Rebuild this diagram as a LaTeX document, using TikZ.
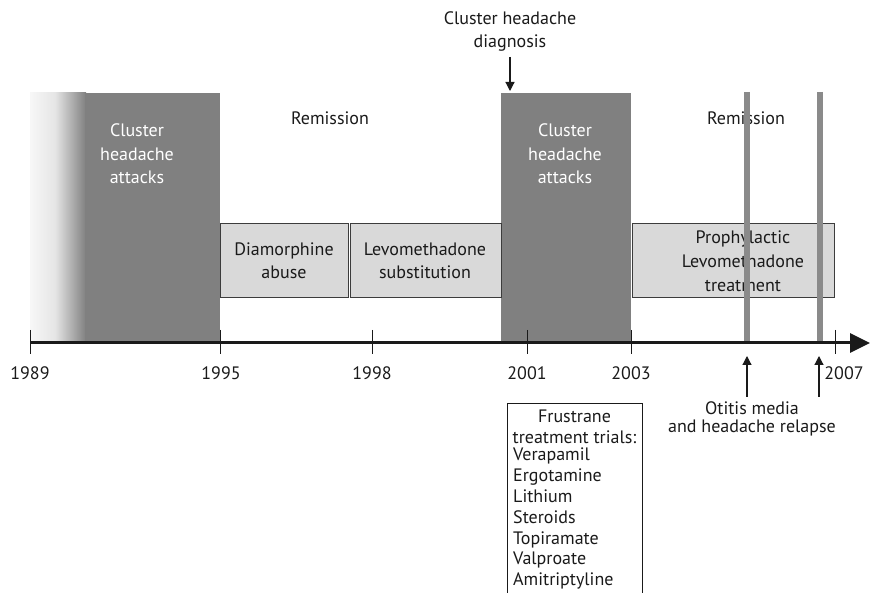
\documentclass[tikz,border=0pt]{standalone}
\usepackage{fontspec}
\setmainfont{PT Sans}
\usetikzlibrary{arrows.meta}
\definecolor{blk}{HTML}{808080}
\definecolor{pale}{HTML}{D9D9D9}
\definecolor{ink}{HTML}{1A1A1A}
\definecolor{vline}{HTML}{8A8A8A}
\tikzset{
  lbl/.style={font=\fontsize{18}{20}\selectfont, text=ink, inner sep=0pt, align=center},
  wlbl/.style={font=\fontsize{18}{23.5}\selectfont, text=white, inner sep=0pt, align=center},
  pbox/.style={fill=pale, draw=ink!85, line width=1pt},
  tickmark/.style={line width=0.9pt, draw=ink},
  yr/.style={font=\fontsize{18}{20}\selectfont, text=ink, inner sep=0pt},
  uparr/.style={line width=1.2pt, draw=ink, -{Triangle[length=9pt,width=9pt]}},
}
\begin{document}
\begin{tikzpicture}[x=1pt,y=-1pt]
\useasboundingbox (0,0) rectangle (871,593);
% gradient start
\shade[left color=white!97!black, right color=white!90!black] (30,93) rectangle (55,343);
\shade[left color=white!90!black, right color=blk] (55,93) rectangle (86,343);
% attack blocks
\fill[blk] (85,93) rectangle (220,343);
\fill[blk] (501,93) rectangle (631,343);
\node[wlbl] (att1) at (137,154) {Cluster\\headache\\attacks};
\node[wlbl] (att2) at (565,154) {Cluster\\headache\\attacks};
% remission
\node[lbl] (rem1) at (330,118) {Remission};
\node[lbl] (rem2) at (746,118) {Remission};
% treatment boxes
\draw[pbox] (220,224) rectangle (348,298);
\node[lbl, font=\fontsize{18}{23}\selectfont] (dia) at (284,261) {Diamorphine\\abuse};
\draw[pbox] (350,224) rectangle (501,298);
\node[lbl, font=\fontsize{18}{23}\selectfont] (levo) at (425,261) {Levomethadone\\substitution};
\draw[pbox] (632,224) rectangle (834,298);
\node[lbl, font=\fontsize{18}{24}\selectfont] (proph) at (743,261) {Prophylactic\\Levomethadone\\treatment};
% relapse lines
\draw[vline, line width=6pt] (747,92) -- (747,343);
\draw[vline, line width=6pt] (820,92) -- (820,343);
% axis
\coordinate (axs) at (30,343);
\coordinate (axe) at (870,343);
\draw[line width=3pt, draw=ink, -{Triangle[length=20pt,width=19pt]}] (axs) -- (axe);
\foreach \x in {30,220,372,527,631,835}{
  \draw[tickmark] (\x,330) -- (\x,354);
}
\node[yr] (y1989) at (30,373) {1989};
\node[yr] (y1995) at (221,373) {1995};
\node[yr] (y1998) at (372,373) {1998};
\node[yr] (y2001) at (527,373) {2001};
\node[yr] (y2003) at (631,373) {2003};
\node[yr] (y2007) at (844,373) {2007};
% diagnosis
\node[lbl, font=\fontsize{18}{23}\selectfont] (diag) at (510,32) {Cluster headache\\diagnosis};
\coordinate (diagtip) at (510,91);
\draw[line width=1.2pt, draw=ink, -{Triangle[length=9pt,width=9pt]}] (510,57) -- (diagtip);
% otitis
\coordinate (ot1) at (747,356);
\coordinate (ot2) at (819,356);
\node[lbl, font=\fontsize{18}{18.5}\selectfont] (otitis) at (752,419) {Otitis media\\and headache relapse};
\draw[uparr] (747,397) -- (ot1);
\draw[uparr] (819,397) -- (ot2);
% frustrane box
\draw[line width=1pt, draw=ink] (507,600) -- (507,404) -- (642,404) -- (642,600);
\node[lbl, font=\fontsize{18}{20.8}\selectfont] (frus) at (574.5,426.5) {Frustrane\\treatment trials:};
\node[lbl, font=\fontsize{18}{20.8}\selectfont, align=left, anchor=north west] (drugs) at (513,448) {Verapamil\\Ergotamine\\Lithium\\Steroids\\Topiramate\\Valproate\\Amitriptyline};
\end{tikzpicture}
\end{document}
